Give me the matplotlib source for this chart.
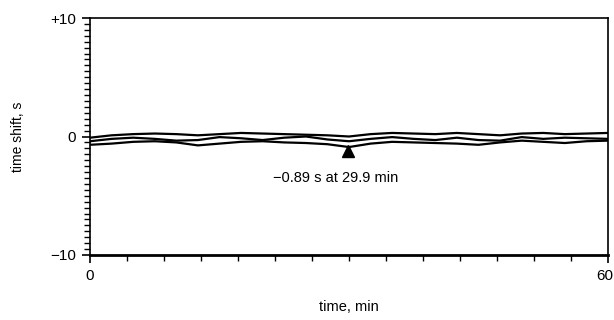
import numpy as np
import matplotlib
matplotlib.use("Agg")
import matplotlib.pyplot as plt
import matplotlib.transforms as mtransforms
from matplotlib.ticker import FixedLocator, MultipleLocator

plt.rcParams['font.family'] = ['Liberation Sans', 'DejaVu Sans']

# data (time in min, shift in s)
t = [0, 2.5, 5, 7.5, 10, 12.5, 15, 17.5, 20, 22.5, 25, 27.5, 30, 32.5, 35,
     37.5, 40, 42.5, 45, 47.5, 50, 52.5, 55, 57.5, 60]
upper = [-0.1, 0.1, 0.2, 0.25, 0.2, 0.1, 0.2, 0.3, 0.25, 0.2, 0.15, 0.1, 0.0,
         0.2, 0.3, 0.25, 0.2, 0.3, 0.2, 0.1, 0.25, 0.3, 0.2, 0.25, 0.3]
middle = [-0.4, -0.2, -0.1, -0.2, -0.35, -0.3, -0.05, -0.15, -0.3, -0.1, 0.0,
          -0.25, -0.4, -0.2, -0.05, -0.2, -0.3, -0.1, -0.3, -0.35, -0.05, -0.2,
          -0.1, -0.15, -0.2]
lower = [-0.7, -0.6, -0.45, -0.4, -0.5, -0.75, -0.6, -0.45, -0.4, -0.5, -0.55,
         -0.65, -0.89, -0.6, -0.45, -0.5, -0.55, -0.6, -0.7, -0.5, -0.35, -0.45,
         -0.55, -0.4, -0.35]
min_t = 29.9
min_val = -0.89
annot = "\u22120.89 s at 29.9 min"
ytick_vals = [-10, 0, 10]
ytick_labels = ["\u221210", "0", "+10"]
xtick_vals = [0, 60]
xtick_labels = ["0", "60"]

fig = plt.figure(figsize=(6.14, 3.2), dpi=100)
ax = fig.add_axes([90/614, 65/320, 518/614, 237/320])

for s in (upper, middle, lower):
    ax.plot(t, s, color='black', lw=1.6)

ax.plot([min_t], [-1.25], marker='^', color='black', markersize=8, ls='none')
ax.text(min_t - 1.5, -3.5, annot, ha='center', va='center', fontsize=10.5)

ax.set_xlim(0, 60)
ax.set_ylim(-10, 10)
ax.yaxis.set_major_locator(FixedLocator(ytick_vals))
ax.set_yticklabels(ytick_labels, fontsize=11)
ax.yaxis.set_minor_locator(MultipleLocator(0.5))
ax.xaxis.set_major_locator(FixedLocator(xtick_vals))
ax.set_xticklabels(xtick_labels, fontsize=11)
ax.xaxis.set_minor_locator(FixedLocator(list(np.linspace(0, 60, 15))))
ax.tick_params(axis='both', which='major', direction='out', length=6, width=1.2, pad=4)
ax.tick_params(axis='both', which='minor', direction='out', length=4, width=1.0)

# keep the "60" label inside the figure edge
lbl60 = ax.get_xticklabels()[1]
lbl60.set_ha('right')
lbl60.set_transform(lbl60.get_transform() +
                    mtransforms.ScaledTranslation(5/100, 0, fig.dpi_scale_trans))

for side in ('left', 'right', 'top'):
    ax.spines[side].set_linewidth(1.2)
ax.spines['bottom'].set_linewidth(2.0)

ax.set_ylabel("time shift, s", fontsize=10, labelpad=18)
ax.set_xlabel("time, min", fontsize=10.5, labelpad=12)

fig.savefig("out.png", dpi=100)
